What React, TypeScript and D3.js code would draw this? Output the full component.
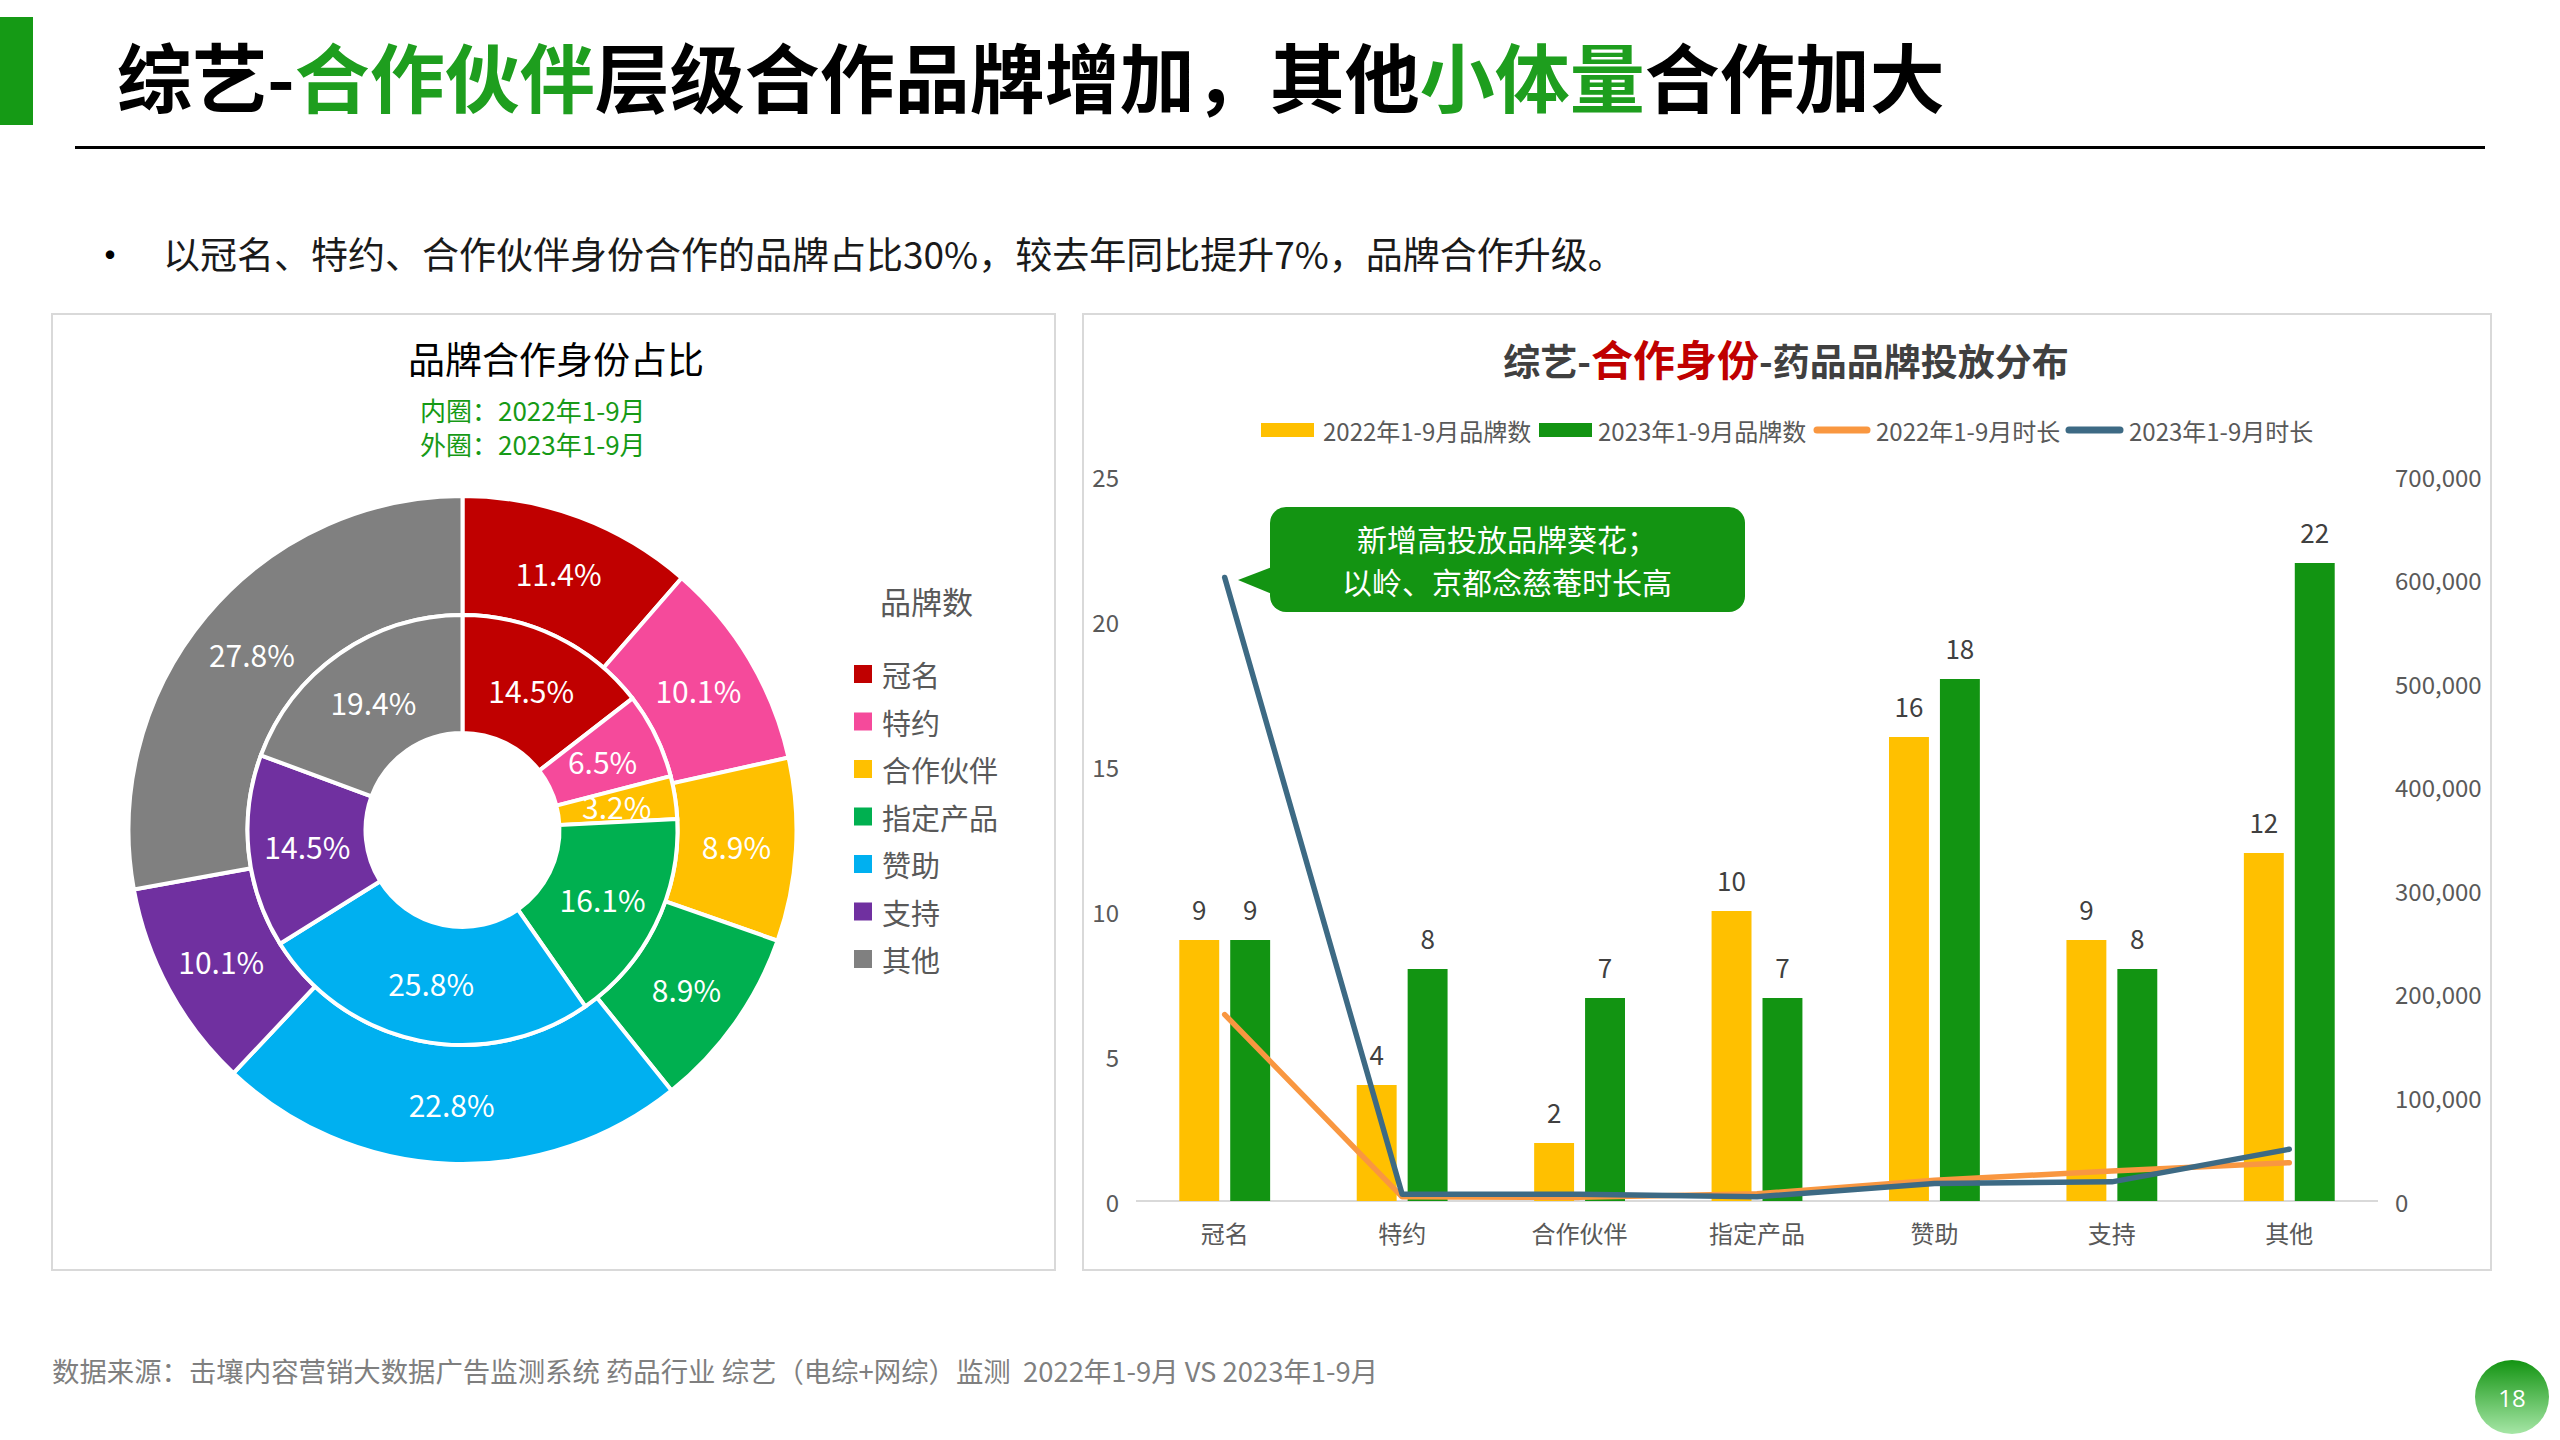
import React from "react";
import * as d3 from "d3";

const categories = ["冠名", "特约", "合作伙伴", "指定产品", "赞助", "支持", "其他"];
const brands2022 = [9, 4, 2, 10, 16, 9, 12];
const brands2023 = [9, 8, 7, 7, 18, 8, 22];
const duration2022 = [180000, 4000, 3500, 7000, 20000, 29000, 37000];
const duration2023 = [602000, 6500, 6500, 4000, 17000, 18500, 50000];
const leftTicks = [0, 5, 10, 15, 20, 25];
const rightTicks = [0, 100000, 200000, 300000, 400000, 500000, 600000, 700000];
const pieColors = ["#C00000", "#F54A9B", "#FFC000", "#00B050", "#00B0F0", "#7030A0", "#808080"];
const seriesNames = ["2022年1-9月品牌数", "2023年1-9月品牌数", "2022年1-9月时长", "2023年1-9月时长"];
const seriesColors = ["#FFC000", "#129412", "#F99740", "#3D6A84"];

const FONT = "'Microsoft YaHei','Noto Sans CJK SC','Noto Sans',sans-serif";
const GREEN = "#169A16";

function Donut() {
  const cx = 462.5, cy = 830;
  const rHole = 97, rMid = 215, rOut = 334;
  const pie = d3.pie<number>().sort(null).value((d) => d);
  const innerArcs = pie(brands2022);
  const outerArcs = pie(brands2023);
  const innerArc = d3.arc<d3.PieArcDatum<number>>().innerRadius(rHole).outerRadius(rMid);
  const outerArc = d3.arc<d3.PieArcDatum<number>>().innerRadius(rMid).outerRadius(rOut);
  const sum22 = d3.sum(brands2022);
  const sum23 = d3.sum(brands2023);
  const fmt = (v: number, s: number) => ((v / s) * 100).toFixed(1) + "%";
  return (
    <g>
      <g transform={`translate(${cx},${cy})`}>
        {outerArcs.map((a, i) => (
          <path key={"o" + i} d={outerArc(a) || ""} fill={pieColors[i]} stroke="#fff" strokeWidth={4} />
        ))}
        {innerArcs.map((a, i) => (
          <path key={"i" + i} d={innerArc(a) || ""} fill={pieColors[i]} stroke="#fff" strokeWidth={4} />
        ))}
        <circle r={rHole} fill="#fff" />
        {outerArcs.map((a, i) => {
          const [x, y] = outerArc.centroid(a);
          return (
            <text key={"ol" + i} x={x} y={y} fill="#fff" fontSize={30} textAnchor="middle" dominantBaseline="central">
              {fmt(brands2023[i], sum23)}
            </text>
          );
        })}
        {innerArcs.map((a, i) => {
          const [x, y] = innerArc.centroid(a);
          return (
            <text key={"il" + i} x={x} y={y} fill="#fff" fontSize={30} textAnchor="middle" dominantBaseline="central">
              {fmt(brands2022[i], sum22)}
            </text>
          );
        })}
      </g>
      <text x={556} y={358} fontSize={37} fill="#000" textAnchor="middle" dominantBaseline="central">品牌合作身份占比</text>
      <text x={420} y={409} fontSize={26} fill={GREEN} dominantBaseline="central">内圈：2022年1-9月</text>
      <text x={420} y={443} fontSize={26} fill={GREEN} dominantBaseline="central">外圈：2023年1-9月</text>
      <text x={880} y={600} fontSize={31} fill="#595959" dominantBaseline="central">品牌数</text>
      {categories.map((c, i) => (
        <g key={"lg" + i}>
          <rect x={854} y={674 + i * 47.5 - 9} width={18} height={18} fill={pieColors[i]} />
          <text x={882} y={674 + i * 47.5} fontSize={29} fill="#595959" dominantBaseline="central">{c}</text>
        </g>
      ))}
    </g>
  );
}

function Combo() {
  const x = d3.scaleBand<string>().domain(categories).range([1136, 2378]);
  const yL = d3.scaleLinear().domain([0, 25]).range([1201, 476]);
  const yR = d3.scaleLinear().domain([0, 700000]).range([1201, 476]);
  const bw = x.bandwidth();
  const barW = bw * 0.225;
  const gap = bw * 0.062;
  const cxOf = (c: string) => (x(c) as number) + bw / 2;
  const line = (vals: number[]) =>
    d3.line<number>().x((_, i) => cxOf(categories[i])).y((v) => yR(v))(vals) || "";
  const fmtR = d3.format(",");
  const legendSym = [1261, 1539, 1814, 2066];
  const legendSymW = [53, 53, 56, 57];
  const legendText = [1323, 1598, 1876, 2129];
  return (
    <g>
      <text x={1786} y={376} textAnchor="middle" fontWeight="bold" fontSize={37} fill="#404040">
        <tspan>综艺-</tspan>
        <tspan fill="#C00000" fontSize={42}>合作身份</tspan>
        <tspan>-药品品牌投放分布</tspan>
      </text>
      {seriesNames.map((s, i) => (
        <g key={"sl" + i}>
          {i < 2 ? (
            <rect x={legendSym[i]} y={423} width={legendSymW[i]} height={14} fill={seriesColors[i]} />
          ) : (
            <line x1={legendSym[i] + 3} x2={legendSym[i] + legendSymW[i] - 3} y1={430} y2={430} stroke={seriesColors[i]} strokeWidth={7} strokeLinecap="round" />
          )}
          <text x={legendText[i]} y={430} fontSize={24} fill="#595959" dominantBaseline="central">{s}</text>
        </g>
      ))}
      {leftTicks.map((t) => (
        <text key={"lt" + t} x={1119} y={yL(t)} fontSize={24} fill="#595959" textAnchor="end" dominantBaseline="central">{t}</text>
      ))}
      {rightTicks.map((t) => (
        <text key={"rt" + t} x={2395} y={yR(t)} fontSize={24} fill="#595959" dominantBaseline="central">{fmtR(t)}</text>
      ))}
      <line x1={1136} x2={2378} y1={yL(0)} y2={yL(0)} stroke="#D9D9D9" strokeWidth={2} />
      {categories.map((c, i) => {
        const cc = cxOf(c);
        return (
          <g key={"b" + i}>
            <rect x={cc - gap / 2 - barW} y={yL(brands2022[i])} width={barW} height={yL(0) - yL(brands2022[i])} fill={seriesColors[0]} />
            <rect x={cc + gap / 2} y={yL(brands2023[i])} width={barW} height={yL(0) - yL(brands2023[i])} fill={seriesColors[1]} />
            <text x={cc - gap / 2 - barW / 2} y={yL(brands2022[i]) - 32} fontSize={26} fill="#404040" textAnchor="middle" dominantBaseline="central">{brands2022[i]}</text>
            <text x={cc + gap / 2 + barW / 2} y={yL(brands2023[i]) - 32} fontSize={26} fill="#404040" textAnchor="middle" dominantBaseline="central">{brands2023[i]}</text>
            <text x={cc} y={1232} fontSize={24} fill="#595959" textAnchor="middle" dominantBaseline="central">{c}</text>
          </g>
        );
      })}
      <path d={line(duration2022)} fill="none" stroke={seriesColors[2]} strokeWidth={5.5} strokeLinecap="round" strokeLinejoin="round" />
      <path d={line(duration2023)} fill="none" stroke={seriesColors[3]} strokeWidth={5.5} strokeLinecap="round" strokeLinejoin="round" />
      <path d="M1238,580 L1272,567 L1272,594 Z" fill="#139412" />
      <rect x={1270} y={507} width={475} height={105} rx={16} fill="#139412" />
      <text x={1507} y={538} fontSize={30} fill="#fff" textAnchor="middle" dominantBaseline="central">新增高投放品牌葵花；</text>
      <text x={1507} y={581} fontSize={30} fill="#fff" textAnchor="middle" dominantBaseline="central">以岭、京都念慈菴时长高</text>
    </g>
  );
}

export default function App() {
  return (
    <svg
      width={2560}
      height={1440}
      viewBox="0 0 2560 1440"
      style={{ position: "fixed", left: 0, top: 0, display: "block", background: "#fff" }}
      fontFamily={FONT}
    >
      <defs>
        <linearGradient id="pg" x1="0" y1="0" x2="0" y2="1">
          <stop offset="0" stopColor="#139412" />
          <stop offset="1" stopColor="#A6E6A6" />
        </linearGradient>
      </defs>
      <rect x={0} y={0} width={2560} height={1440} fill="#fff" />
      <rect x={0} y={17} width={33} height={108} fill="#159A15" />
      <text x={117} y={74} fontSize={75} fontWeight="bold" fill="#000" dominantBaseline="central">
        <tspan>综艺-</tspan>
        <tspan fill="#1E9E1E">合作伙伴</tspan>
        <tspan>层级合作品牌增加，其他</tspan>
        <tspan fill="#1E9E1E">小体量</tspan>
        <tspan>合作加大</tspan>
      </text>
      <line x1={75} x2={2485} y1={147.5} y2={147.5} stroke="#000" strokeWidth={3} />
      <text x={90} y={253} fontSize={40} fill="#000" dominantBaseline="central">•</text>
      <text x={163} y={253} fontSize={37} fill="#1a1a1a" dominantBaseline="central">
        以冠名、特约、合作伙伴身份合作的品牌占比30%，较去年同比提升7%，品牌合作升级。
      </text>
      <rect x={52} y={314} width={1003} height={956} fill="none" stroke="#D9D9D9" strokeWidth={2} />
      <rect x={1083} y={314} width={1408} height={956} fill="none" stroke="#D9D9D9" strokeWidth={2} />
      <Donut />
      <Combo />
      <text x={52} y={1370} fontSize={27.4} fill="#7F7F7F" dominantBaseline="central" style={{ whiteSpace: "pre" }}>
        {"数据来源：击壤内容营销大数据广告监测系统 药品行业 综艺（电综+网综）监测  2022年1-9月 VS 2023年1-9月"}
      </text>
      <circle cx={2512} cy={1397} r={37} fill="url(#pg)" />
      <text x={2512} y={1397} fontSize={24} fill="#fff" textAnchor="middle" dominantBaseline="central" fontFamily="'Open Sans',sans-serif">18</text>
    </svg>
  );
}
